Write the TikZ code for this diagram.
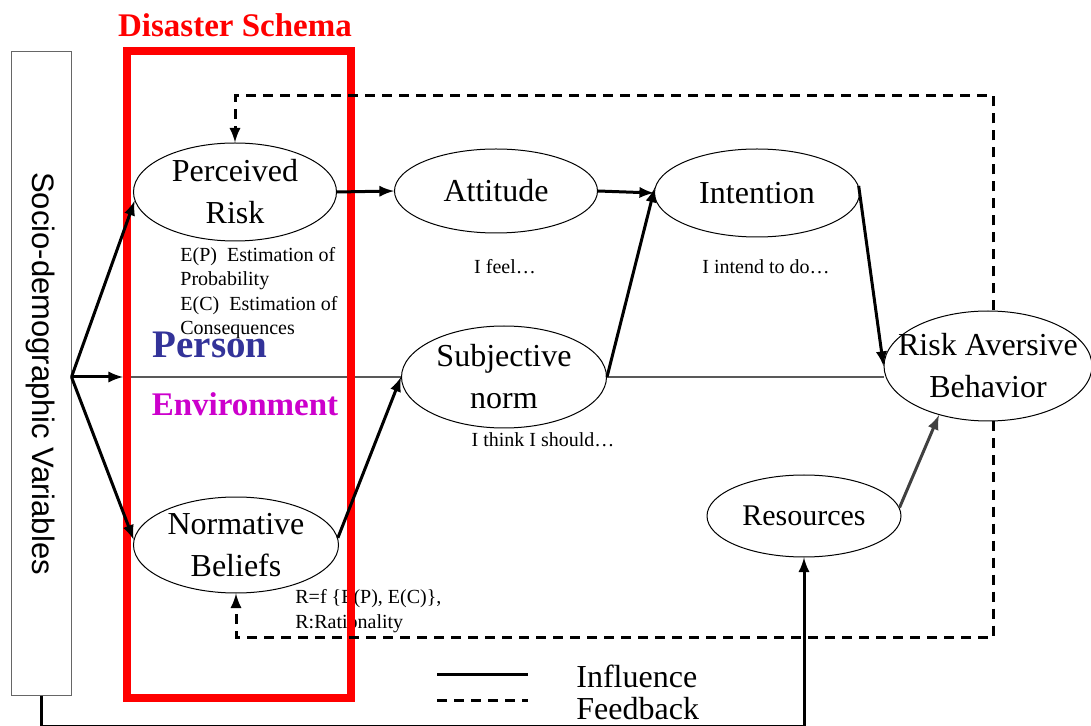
\documentclass[tikz,border=0pt]{standalone}
\usepackage{fontspec}
\setmainfont{Liberation Serif}
\newfontfamily\arialfont{Liberation Sans}
\usepackage{tikz}
\usetikzlibrary{shapes.geometric}
\definecolor{personblue}{HTML}{333399}
\definecolor{envmagenta}{HTML}{CC00CC}

\begin{document}
\begin{tikzpicture}[
        x=0.5pt, y=-0.5pt,
        concept/.style={ellipse, draw, line width=0.5pt, inner xsep=-12pt, inner ysep=-4pt, align=center, font=\fontsize{16}{21}\selectfont},
        note/.style={inner sep=0pt, align=left, font=\fontsize{10}{12.25}\selectfont},
        influence/.style={line width=1.5pt},
        feedback/.style={line width=1.5pt, dash pattern=on 5pt off 3.5pt},
        divider/.style={black!65, line width=0.7pt},
        >=latex
    ]
        \useasboundingbox (0,0) rectangle (1091,726);

        % Socio-demographic box
        \node[draw=black!60, line width=0.5pt, rotate=-90, minimum width=321.5pt, minimum height=30pt,
              font=\arialfont\fontsize{15.5}{18}\selectfont] (socio) at (41,373.5) {Socio-demographic Variables};

        % Concepts
        \node[concept, minimum width=101.5pt, minimum height=49pt] (PR) at (235,192) {Perceived\\Risk};
        \node[concept, minimum width=101.5pt, minimum height=42pt] (AT) at (496,191) {Attitude};
        \node[concept, minimum width=102.5pt, minimum height=44pt] (IN) at (757,193) {Intention};
        \node[concept, minimum width=102.5pt, minimum height=51pt] (SN) at (504,377) {Subjective\\norm};
        \node[concept, minimum width=104pt, minimum height=55pt] (RAB) at (988,366) {Risk Aversive\\Behavior};
        \node[concept, minimum width=102.5pt, minimum height=48pt] (NB) at (236,545) {Normative\\Beliefs};
        \node[concept, minimum width=97pt, minimum height=41pt, font=\fontsize{15}{18}\selectfont] (RES) at (804,516) {Resources};

        % Notes
        \node[note, anchor=west] (estim) at (180,293) {E(P)\ \ Estimation of\\Probability\\E(C)\ \ Estimation of\\Consequences};
        \node[note] (feel) at (505,267) {I feel…};
        \node[note] (intend) at (766,267) {I intend to do…};
        \node[note] (should) at (543,440) {I think I should…};
        \node[note, anchor=west] (ratio) at (295,611) {R=f \{E(P), E(C)\},\\R:Rationality};
        \node[text=personblue, font=\bfseries\fontsize{19.5}{22}\selectfont] (person) at (210,345) {Person};
        \node[text=envmagenta, font=\bfseries\fontsize{16.5}{20}\selectfont] (env) at (245,404) {Environment};

        % Person / environment divider
        \draw[divider] (SN.west -| 123,0) -- (SN.west);
        \draw[divider] (SN.east) -- (SN.east -| RAB.west);

        % Disaster schema frame
        \node[draw=red, line width=4pt, minimum width=112pt, minimum height=323.5pt] (schema) at (239,374.5) {};
        \node[text=red, font=\bfseries\fontsize{16.5}{20}\selectfont] (title) at (235,25) {Disaster Schema};

        % Influence
        \coordinate (split) at (socio.north |- SN.west);
        \draw[influence, ->] (split) -- (PR.185);
        \draw[influence, ->] (split) -- (split -| schema.west);
        \draw[influence, ->] (split) -- (NB.177);
        \draw[influence, ->] (PR.east) -- (AT.west);
        \draw[influence, ->] (AT.east) -- (IN.west);
        \draw[influence, ->] (NB.4) -- (SN.west);
        \draw[influence, ->] (SN.east) -- (IN.177);
        \draw[influence, ->] (IN.4) -- (RAB.west);
        \draw[influence, ->, black!75] (RES.5) -- (RAB.225);
        \draw[influence, ->] (socio.east) -- ++(0,31) -| (RES.south);

        % Feedback
        \draw[feedback, ->] ([xshift=2.5pt]RAB.north) |- (PR.north |- 0,96) -- (PR.north);
        \draw[feedback, ->] ([xshift=2.5pt]RAB.south) |- (NB.south |- 0,637) -- (NB.south);

        % Legend
        \coordinate (leg1a) at (437,674);
        \coordinate (leg1b) at (528,674);
        \coordinate (leg2a) at (437,700);
        \coordinate (leg2b) at (528,700);
        \draw[influence] (leg1a) -- (leg1b);
        \draw[feedback] (leg2a) -- (leg2b);
        \node[anchor=west, inner sep=0pt, font=\fontsize{16}{18}\selectfont] (infl) at (576,676) {Influence};
        \node[anchor=west, inner sep=0pt, font=\fontsize{16}{18}\selectfont] (fb) at (576,709) {Feedback};
    \end{tikzpicture}
\end{document}
